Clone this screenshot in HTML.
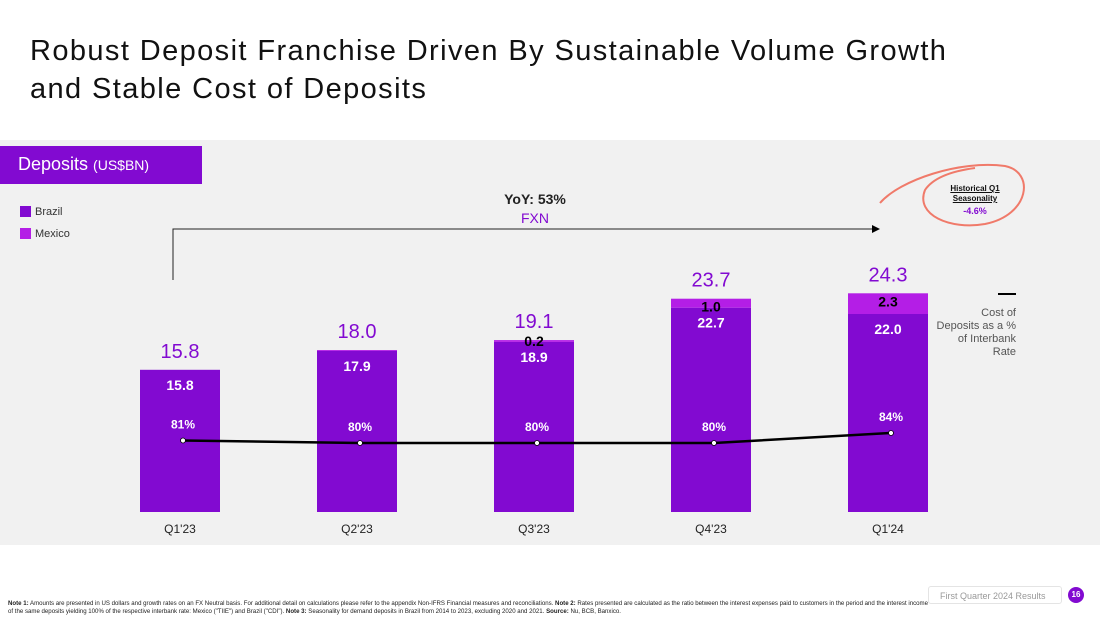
<!DOCTYPE html>
<html><head><meta charset="utf-8"><style>
body{margin:0;width:1100px;height:619px;background:#fff;font-family:"Liberation Sans",sans-serif;position:relative;overflow:hidden}
.abs{position:absolute}
</style></head><body>
<div class="abs" style="left:30px;top:32px;font-size:29px;line-height:38px;color:#111;letter-spacing:1.4px">Robust Deposit Franchise Driven By Sustainable Volume Growth<br>and Stable Cost of Deposits</div>
<div class="abs" style="left:0;top:140px;width:1100px;height:405px;background:#f1f1f1"></div>
<div class="abs" style="left:0;top:146px;width:202px;height:38px;background:#820ad1;color:#fff;font-size:18px;line-height:36px;padding-left:18px;box-sizing:border-box">Deposits <span style="font-size:14px">(US$BN)</span></div>
<div class="abs" style="left:20px;top:206px;font-size:11px;color:#333"><span style="display:inline-block;width:11px;height:11px;background:#820ad1;vertical-align:-2px;margin-right:4px"></span>Brazil</div>
<div class="abs" style="left:20px;top:228px;font-size:11px;color:#333"><span style="display:inline-block;width:11px;height:11px;background:#b41ee6;vertical-align:-2px;margin-right:4px"></span>Mexico</div>
<div class="abs" style="left:480px;top:191px;width:110px;text-align:center;font-size:14px;font-weight:bold;color:#222">YoY: 53%</div>
<div class="abs" style="left:480px;top:210px;width:110px;text-align:center;font-size:14px;color:#820ad1">FXN</div>
<div class="abs" style="left:935px;top:184px;width:80px;text-align:center;font-size:8px;font-weight:bold;text-decoration:underline;color:#111;line-height:10px">Historical Q1<br>Seasonality</div>
<div class="abs" style="left:935px;top:206px;width:80px;text-align:center;font-size:9px;font-weight:bold;color:#820ad1">-4.6%</div>
<div class="abs" style="left:930px;top:293px;width:86px;text-align:right;font-size:11px;color:#555;line-height:13px"><div style="display:inline-block;width:18px;height:2px;background:#000;margin-bottom:8px"></div><br>Cost of<br>Deposits as a %<br>of Interbank<br>Rate</div>
<div class="abs" style="left:928px;top:586px;width:134px;height:18px;border:1px solid #e4e4e4;border-radius:3px;font-size:9px;color:#999;line-height:18px;padding-left:11px;box-sizing:border-box">First Quarter 2024 Results</div>
<div class="abs" style="left:1068px;top:587px;width:16px;height:16px;border-radius:50%;background:#820ad1;color:#fff;font-size:8px;font-weight:bold;text-align:center;line-height:16px">16</div>
<div class="abs" style="left:8px;top:600px;width:920px;font-size:6.1px;line-height:8px;color:#222"><b>Note 1:</b> Amounts are presented in US dollars and growth rates on an FX Neutral basis. For additional detail on calculations please refer to the appendix Non-IFRS Financial measures and reconciliations. <b>Note 2:</b> Rates presented are calculated as the ratio between the interest expenses paid to customers in the period and the interest income of the same deposits yielding 100% of the respective interbank rate: Mexico ("TIIE") and Brazil ("CDI"). <b>Note 3:</b> Seasonality for demand deposits in Brazil from 2014 to 2023, excluding 2020 and 2021. <b>Source:</b> Nu, BCB, Banxico.</div>
<svg class="abs" style="left:0;top:0" width="1100" height="619" id="chart">
<path d="M173 280 V229 H872" fill="none" stroke="#222" stroke-width="1"/>
<polygon points="880,229 872,225 872,233" fill="#000"/>
<path d="M880 203 C900 180,960 160,1005 166 C1035 172,1030 215,985 224 C950 230,915 215,925 190 C935 175,960 170,975 168" fill="none" stroke="#f07a6a" stroke-width="2"/>
</svg>
<script>
const categories=["Q1'23","Q2'23","Q3'23","Q4'23","Q1'24"];
const brazil=[15.8,17.9,18.9,22.7,22.0];
const mexico=[0,0.1,0.2,1.0,2.3];
const totals=["15.8","18.0","19.1","23.7","24.3"];
const mexicoLabels=["","","0.2","1.0","2.3"];
const costPct=[81,80,80,80,84];
const svg=document.getElementById('chart');
const NS='http://www.w3.org/2000/svg';
const base=512, k=9.0, x0=180, dx=177, bw=80;
const xs=i=>x0+i*dx;
const ys=v=>base-v*k;
const yp=v=>443-(v-80)*2.5;
function mk(t,a){const e=document.createElementNS(NS,t);for(const n in a)e.setAttribute(n,a[n]);svg.appendChild(e);return e;}
function txt(x,y,s,sz,col,w){const e=mk('text',{x:x,y:y,'text-anchor':'middle','font-size':sz,fill:col,'font-weight':w||'normal','font-family':'Liberation Sans, sans-serif'});e.textContent=s;return e;}
categories.forEach((c,i)=>{
  const x=xs(i)-bw/2;
  let r=mk('rect',{x:x,y:ys(brazil[i]),width:bw,height:brazil[i]*k,fill:'#820ad1'});
  
  
  if(mexico[i]>0){
    r=mk('rect',{x:x,y:ys(brazil[i]+mexico[i]),width:bw,height:mexico[i]*k,fill:'#b41ee6'});
    
    
  }
  const top=ys(brazil[i]+mexico[i]);
  let t=txt(xs(i),top-12,totals[i],20,'#820ad1');
  
  
  t=txt(xs(i),ys(brazil[i])+20,brazil[i].toFixed(1),14,'#fff','bold');
  
  
  if(mexicoLabels[i]){
    t=txt(xs(i),i==2?top+6:top+13,mexicoLabels[i],14,'#000','bold');
    
    
  }
  t=txt(xs(i),533,c,12,'#222');
  
  
  t=txt(xs(i)+3,yp(costPct[i])-12,costPct[i]+'%',12,'#fff','bold');
  
  
});
const pts=costPct.map((v,i)=>(xs(i)+3)+','+yp(v)).join(' ');
const pl=mk('polyline',{points:pts,fill:'none',stroke:'#000','stroke-width':2.5});


costPct.forEach((v,i)=>{
  const c=mk('circle',{cx:xs(i)+3,cy:yp(v),r:2.5,fill:'#fff',stroke:'#000','stroke-width':0.8});
  
  
});
</script>
</body></html>
